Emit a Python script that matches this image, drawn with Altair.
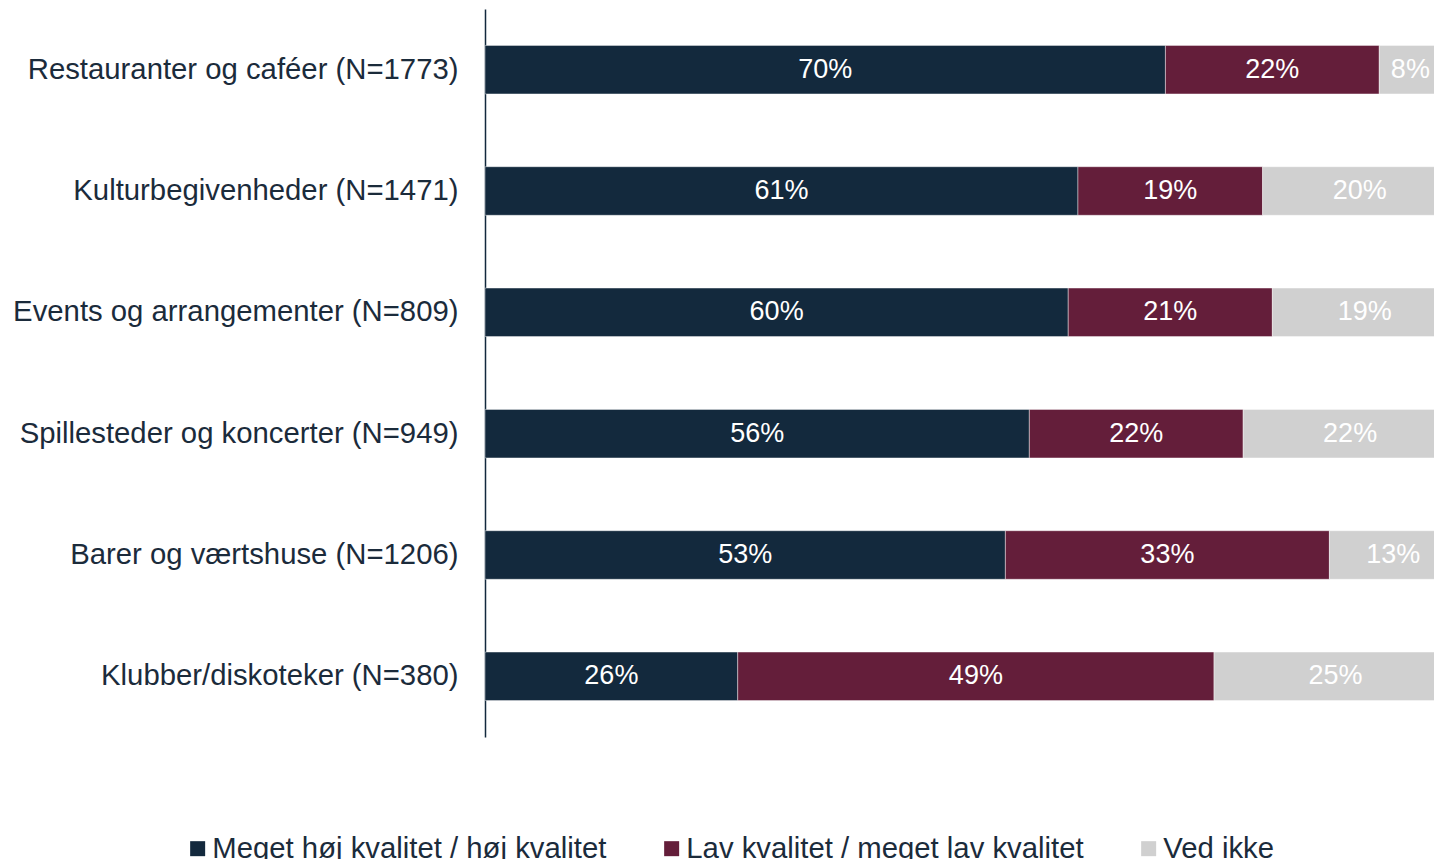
import altair as alt
import pandas as pd

categories = [
    "Restauranter og caféer (N=1773)",
    "Kulturbegivenheder (N=1471)",
    "Events og arrangementer (N=809)",
    "Spillesteder og koncerter (N=949)",
    "Barer og værtshuse (N=1206)",
    "Klubber/diskoteker (N=380)",
]
series = ["Meget høj kvalitet / høj kvalitet", "Lav kvalitet / meget lav kvalitet", "Ved ikke"]
colors = ["#13293D", "#641E3A", "#D0D0D0"]
high = [70, 61, 60, 56, 53, 26]
low = [22, 19, 21, 22, 33, 49]
dont_know = [8, 20, 19, 22, 13, 25]

rows = []
for i, c in enumerate(categories):
    for j, (s, v) in enumerate(zip(series, [high[i], low[i], dont_know[i]])):
        rows.append({"cat": c, "series": s, "order": j, "value": v, "label": f"{v}%"})
df = pd.DataFrame(rows)

FONT = "Liberation Sans"
TXT = "#1B2B3B"

base = alt.Chart(df).transform_stack(
    stack="value", groupby=["cat"], sort=[alt.SortField("order")],
    as_=["x0", "x1"], offset="normalize"
).transform_calculate(mid="min((datum.x0 + datum.x1) / 2, 0.952)")

yenc = alt.Y(
    "cat:N", sort=categories, title=None,
    scale=alt.Scale(paddingInner=0.6, paddingOuter=0.3),
    axis=alt.Axis(ticks=False, labelFontSize=29.3, labelColor=TXT, labelFont=FONT,
                  labelPadding=27, domainColor="#13293D", domainWidth=1.5,
                  labelLimit=0, grid=False),
)
# the original plot runs slightly past the right edge of the picture
xscale = alt.Scale(domain=[0, 0.9763], nice=False, zero=True)

bars = base.mark_bar(stroke="#ffffff", strokeWidth=0.6, strokeOpacity=0.7, clip=True).encode(
    x=alt.X("x0:Q", scale=xscale, axis=None),
    x2="x1:Q",
    y=yenc,
    color=alt.Color(
        "series:N", sort=series,
        scale=alt.Scale(domain=series, range=colors),
        legend=alt.Legend(
            title=None, orient="none", direction="horizontal",
            legendX=-302, legendY=825, symbolType="square", symbolSize=225,
            symbolStrokeWidth=0, labelFontSize=29.3, labelFont=FONT, labelColor=TXT,
            labelOffset=0, columnPadding=50, labelLimit=0,
        ),
    ),
    order=alt.Order("order:Q"),
)

texts = base.mark_text(color="white", fontSize=27, font=FONT, baseline="middle", align="center").encode(
    x=alt.X("mid:Q", scale=xscale, axis=None),
    y=alt.Y("cat:N", sort=categories),
    text="label:N",
)

chart = (bars + texts).properties(
    width=949, height=728,
    autosize=alt.AutoSizeParams(type="none"),
    padding={"left": 477, "top": 1, "right": 0, "bottom": 130},
).configure(background="white", view=alt.ViewConfig(stroke=None))

chart.save("out.html", embed_options={"renderer": "svg", "actions": False})
